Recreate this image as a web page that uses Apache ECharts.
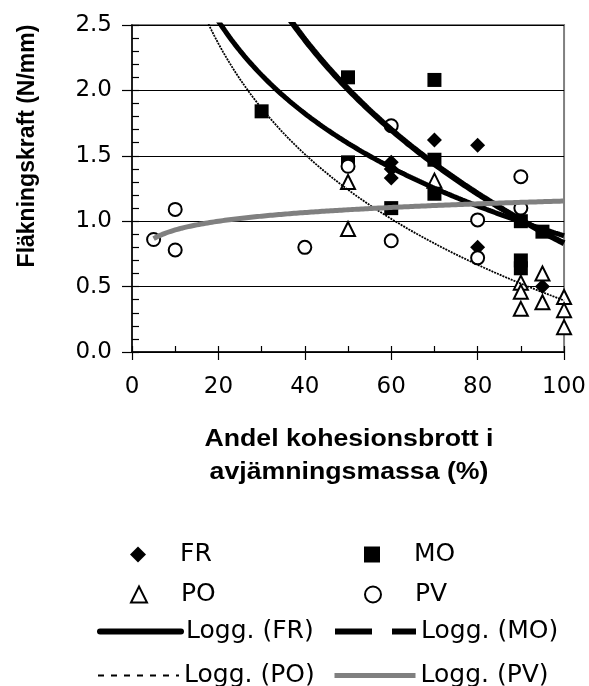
<!DOCTYPE html>
<html><head><meta charset="utf-8">
<script src="https://cdn.jsdelivr.net/npm/echarts@6/dist/echarts.min.js"></script>
<style>html,body{margin:0;padding:0;background:#fff}#c{width:589px;height:686px}</style>
</head><body><div id="c"></div>
<script>
// ---- data ----
const xTickLabels = ['0', '20', '40', '60', '80', '100'];
const yTickLabels = ['0.0', '0.5', '1.0', '1.5', '2.0', '2.5'];

const frX = [60, 60, 60, 70, 80, 80, 95];
const frY = [1.45, 1.40, 1.33, 1.62, 1.58, 0.80, 0.50];

const moX = [30, 50, 50, 60, 70, 70, 70, 90, 90, 90, 95];
const moY = [1.84, 2.10, 1.45, 1.10, 2.08, 1.47, 1.21, 1.00, 0.70, 0.64, 0.92];

const poX = [50, 50, 70, 90, 90, 90, 95, 95, 100, 100, 100];
const poY = [1.30, 0.94, 1.31, 0.53, 0.46, 0.33, 0.60, 0.38, 0.42, 0.32, 0.19];

const pvX = [5, 10, 10, 40, 50, 60, 60, 80, 80, 90, 90];
const pvY = [0.86, 1.09, 0.78, 0.80, 1.42, 1.73, 0.85, 1.01, 0.72, 1.34, 1.10];

// logarithmic trendlines y = a*ln(x) + b (coefficients)
const trendFR = [-1.70, 8.66];
const trendMO = [-1.02, 5.586];
const trendPO = [-1.22, 6.013];
const trendPV = [0.096, 0.712];
const trendRange = [5, 100];

// ---- build ----
function pts(xs, ys) { return xs.map((x, i) => [x, ys[i]]); }
function logCurve(c) {
  const out = [];
  for (let x = trendRange[0]; x <= trendRange[1] + 1e-9; x += 0.5) out.push([x, c[0] * Math.log(x) + c[1]]);
  return out;
}
const FONT = 'Liberation Sans, Arial, sans-serif';
const WIDE = 'DejaVu Sans, Liberation Sans, sans-serif';

const chart = echarts.init(document.getElementById('c'), null, { renderer: 'canvas' });

const gridL = 132, gridT = 25, gridW = 434, gridH = 327;

function lineLegend(item, left, cy) {
  return {
    data: [item], left: left, top: cy - 11, padding: 0,
    itemWidth: 81, itemHeight: 15, itemGap: 0, selectedMode: false,
    textStyle: { fontSize: 25, color: '#000', fontFamily: WIDE }
  };
}
function markLegend(item, cx, cy) {
  return {
    data: [item], left: cx - 8, top: cy - 11, padding: 0,
    itemWidth: 16, itemHeight: 16, itemGap: 0, selectedMode: false, symbolKeepAspect: true,
    textStyle: { fontSize: 25, color: '#000', fontFamily: WIDE, padding: [0, 0, 0, 29] }
  };
}
const hideDot = { opacity: 0 };

const option = {
  backgroundColor: '#fff',
  animation: false,
  grid: { left: gridL, top: gridT, width: gridW, height: gridH, show: true, borderColor: '#808080', borderWidth: 2, backgroundColor: 'transparent' },
  xAxis: [{
    type: 'value', min: 0, max: 100, interval: 20,
    axisLine: { show: true, onZero: false, lineStyle: { color: '#000', width: 1.5 } },
    axisTick: { show: true, inside: false, length: 8, lineStyle: { color: '#000', width: 1.2 } },
    axisLabel: { fontSize: 23, color: '#000', fontFamily: WIDE, margin: 24, formatter: v => xTickLabels[Math.round(v / 20)] },
    splitLine: { show: false }
  }, {
    type: 'value', min: 0, max: 100, interval: 10, position: 'bottom',
    axisLine: { show: false },
    axisTick: { show: true, inside: true, length: 6, lineStyle: { color: '#000', width: 1.2 } },
    axisLabel: { show: false }, splitLine: { show: false }
  }],
  yAxis: [{
    type: 'value', min: 0, max: 2.5, interval: 0.5,
    axisLine: { show: true, onZero: false, lineStyle: { color: '#000', width: 1.5 } },
    axisTick: { show: true, inside: false, length: 10, lineStyle: { color: '#000', width: 1.2 } },
    axisLabel: { fontSize: 23, color: '#000', fontFamily: WIDE, margin: 20, formatter: v => yTickLabels[Math.round(v / 0.5)] },
    splitLine: { show: true, lineStyle: { color: '#000', width: 1 } }
  }, {
    type: 'value', min: 0, max: 2.5, interval: 0.1, position: 'left',
    axisLine: { show: false },
    axisTick: { show: true, inside: true, length: 7, lineStyle: { color: '#000', width: 1.2 } },
    axisLabel: { show: false }, splitLine: { show: false }
  }],
  legend: [
    markLegend('FR', 138, 553),
    markLegend('MO', 372, 553),
    markLegend('PO', 138, 593),
    markLegend('PV', 372, 593),
    lineLegend({ name: 'Logg. (FR)', itemStyle: hideDot, lineStyle: { width: 6, cap: 'round' } }, 97, 630),
    lineLegend({ name: 'Logg. (MO)', itemStyle: hideDot, lineStyle: { width: 6, type: [37, 20] } }, 332, 630),
    lineLegend({ name: 'Logg. (PO)', itemStyle: hideDot, lineStyle: { width: 2, type: [6, 7] } }, 97, 674),
    lineLegend({ name: 'Logg. (PV)', itemStyle: hideDot, lineStyle: { width: 5 } }, 332, 674)
  ],
  graphic: [
    { type: 'text', x: 349, y: 440, scaleX: 1.16, silent: true,
      style: { text: 'Andel kohesionsbrott i', fontSize: 23, fontWeight: 'bold', fontFamily: FONT, fill: '#000', textAlign: 'center', textVerticalAlign: 'middle' } },
    { type: 'text', x: 349, y: 473, scaleX: 1.16, silent: true,
      style: { text: 'avjämningsmassa (%)', fontSize: 23, fontWeight: 'bold', fontFamily: FONT, fill: '#000', textAlign: 'center', textVerticalAlign: 'middle' } },
    { type: 'text', x: 28, y: 146, rotation: Math.PI / 2, silent: true,
      style: { text: 'Fläkningskraft (N/mm)', fontSize: 23, fontWeight: 'bold', fontFamily: FONT, fill: '#000', textAlign: 'center', textVerticalAlign: 'middle' } }
  ],
  series: [
    { name: 'FR', type: 'scatter', data: pts(frX, frY), symbol: 'diamond', symbolSize: 15, itemStyle: { color: '#000', opacity: 1 }, z: 2 },
    { name: 'MO', type: 'scatter', data: pts(moX, moY), symbol: 'rect', symbolSize: 14, itemStyle: { color: '#000', opacity: 1 }, z: 2 },
    { name: 'PO', type: 'scatter', data: pts(poX, poY), symbol: 'triangle', symbolSize: 14, itemStyle: { color: '#fff', borderColor: '#000', borderWidth: 2, opacity: 1 }, z: 2 },
    { name: 'PV', type: 'scatter', data: pts(pvX, pvY), symbol: 'circle', symbolSize: 13, itemStyle: { color: '#fff', borderColor: '#000', borderWidth: 2, opacity: 1 }, z: 2 },
    { name: 'Logg. (FR)', type: 'line', data: logCurve(trendFR), symbol: 'none', showSymbol: false, clip: true, lineStyle: { color: '#000', width: 6 }, itemStyle: { color: '#000' }, z: 3 },
    { name: 'Logg. (MO)', type: 'line', data: logCurve(trendMO), symbol: 'none', showSymbol: false, clip: true, lineStyle: { color: '#000', width: 5 }, itemStyle: { color: '#000' }, z: 3 },
    { name: 'Logg. (PO)', type: 'line', data: logCurve(trendPO), symbol: 'none', showSymbol: false, clip: true, lineStyle: { color: '#000', width: 1.8, type: [2, 1] }, itemStyle: { color: '#000' }, z: 3 },
    { name: 'Logg. (PV)', type: 'line', data: logCurve(trendPV), symbol: 'none', showSymbol: false, clip: true, lineStyle: { color: '#808080', width: 5 }, itemStyle: { color: '#808080' }, z: 3 }
  ]
};
chart.setOption(option);
</script>
</body></html>
